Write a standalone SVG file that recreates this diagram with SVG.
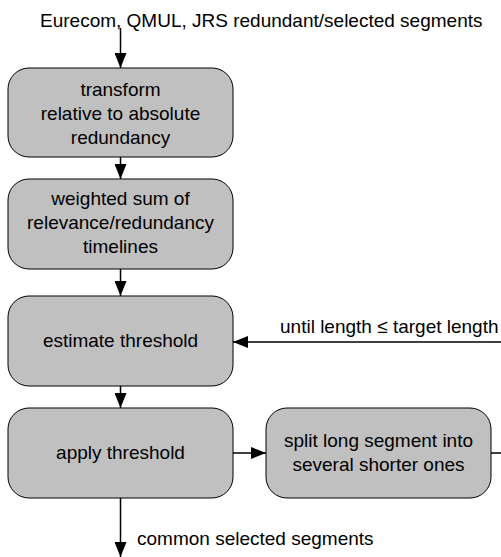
<svg xmlns="http://www.w3.org/2000/svg" width="501" height="557" viewBox="0 0 501 557">
<style>
.box{fill:#c0c0c0;stroke:#000;stroke-width:1}
.t{font-family:"Liberation Sans",Arial,sans-serif;font-size:19px;fill:#000}
.m{text-anchor:middle}
.c{fill:none;stroke:#000;stroke-width:1.5}
</style>
<defs>
<marker id="ah" markerUnits="userSpaceOnUse" markerWidth="16" markerHeight="12" refX="15" refY="6" orient="auto">
<path d="M0,0 L15,6 L0,12 Z" fill="#000"/>
</marker>
</defs>
<rect width="501" height="557" fill="#fff"/>
<g id="connectors">
<path class="c" d="M120.5,28 V68" marker-end="url(#ah)"/>
<path class="c" d="M120.5,157 V179" marker-end="url(#ah)"/>
<path class="c" d="M120.5,269 V296" marker-end="url(#ah)"/>
<path class="c" d="M120.5,386 V408" marker-end="url(#ah)"/>
<path class="c" d="M233,453 H266" marker-end="url(#ah)"/>
<path class="c" d="M120.5,498 V557" marker-end="url(#ah)"/>
<path class="c" d="M491,453 H506 V342 H233" marker-end="url(#ah)"/>
</g>
<text class="t" x="40" y="27">Eurecom, QMUL, JRS redundant/selected segments</text>
<text class="t" x="280" y="333">until length ≤ target length</text>
<text class="t" x="137" y="545">common selected segments</text>
<g id="n1">
<rect class="box" x="8" y="68" width="225" height="89" rx="21"/>
<text class="t m" x="120.5" y="96">transform</text>
<text class="t m" x="120.5" y="120">relative to absolute</text>
<text class="t m" x="120.5" y="144">redundancy</text>
</g>
<g id="n2">
<rect class="box" x="8" y="179" width="225" height="90" rx="21"/>
<text class="t m" x="120.5" y="205">weighted sum of</text>
<text class="t m" x="120.5" y="229">relevance/redundancy</text>
<text class="t m" x="120.5" y="253">timelines</text>
</g>
<g id="n3">
<rect class="box" x="8" y="296" width="225" height="90" rx="21"/>
<text class="t m" x="120.5" y="347">estimate threshold</text>
</g>
<g id="n4">
<rect class="box" x="8" y="408" width="225" height="90" rx="21"/>
<text class="t m" x="120.5" y="459">apply threshold</text>
</g>
<g id="n5">
<rect class="box" x="266" y="408" width="225" height="90" rx="21"/>
<text class="t m" x="378.5" y="447">split long segment into</text>
<text class="t m" x="378.5" y="471">several shorter ones</text>
</g>
</svg>
